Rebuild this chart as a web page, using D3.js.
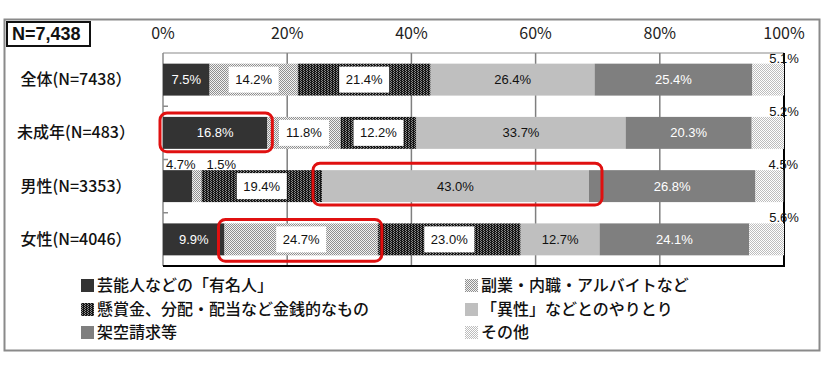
<!DOCTYPE html>
<html>
<head>
<meta charset="utf-8">
<script src="https://cdn.jsdelivr.net/npm/d3@7"></script>
<style>
  body { margin: 0; background: #fff; }
  svg { display: block; font-family: "Noto Sans CJK JP", "Noto Sans", sans-serif; }
</style>
</head>
<body>
<div id="chart"></div>
<script>
// categories (rows) and the six answer groups
const categories = ["全体(N=7438）", "未成年(N=483）", "男性(N=3353）", "女性(N=4046）"];
const seriesNames = [
  "芸能人などの「有名人」",
  "副業・内職・アルバイトなど",
  "懸賞金、分配・配当など金銭的なもの",
  "「異性」などとのやりとり",
  "架空請求等",
  "その他"
];
// percentages per row
const celebrity   = [7.5, 16.8, 4.7, 9.9];
const sideJob     = [14.2, 11.8, 1.5, 24.7];
const prizeMoney  = [21.4, 12.2, 19.4, 23.0];
const romance     = [26.4, 33.7, 43.0, 12.7];
const fakeBilling = [25.4, 20.3, 26.8, 24.1];
const other       = [5.1, 5.2, 4.5, 5.6];
const xTicks = [0, 20, 40, 60, 80, 100];
const totalLabel = "N=7,438";
// highlighted segments: row index + series index
const highlights = [{ row: 1, series: 0 }, { row: 2, series: 3 }, { row: 3, series: 1 }];

const width = 826, height = 375;
const svg = d3.select("#chart").append("svg")
  .attr("width", width)
  .attr("height", height);

const defs = svg.append("defs");

// little pixel patterns to mimic the print hatching
function pattern(id, w, h, bg, fg, dots) {
  const p = defs.append("pattern")
    .attr("id", id)
    .attr("patternUnits", "userSpaceOnUse")
    .attr("width", w).attr("height", h);
  p.append("rect").attr("width", w).attr("height", h).attr("fill", bg);
  dots.forEach(([dx, dy]) => p.append("rect")
    .attr("x", dx).attr("y", dy).attr("width", 1).attr("height", 1).attr("fill", fg));
}
pattern("pSide", 2, 2, "#f2f2f2", "#8f8f8f", [[0, 0], [1, 1]]);
pattern("pPrize", 3, 2, "#151515", "#8a8a8a", [[0, 0], [1, 1]]);
pattern("pOther", 2, 2, "#ffffff", "#bdbdbd", [[0, 0], [1, 1]]);

const fills = ["#333333", "url(#pSide)", "url(#pPrize)", "#bfbfbf", "#7f7f7f", "url(#pOther)"];

const keys = ["celebrity", "sideJob", "prizeMoney", "romance", "fakeBilling", "other"];
const tableRows = categories.map((c, i) => ({
  cat: c,
  celebrity: celebrity[i], sideJob: sideJob[i], prizeMoney: prizeMoney[i],
  romance: romance[i], fakeBilling: fakeBilling[i], other: other[i]
}));
const stacked = d3.stack().keys(keys)(tableRows);

const x = d3.scaleLinear().domain([0, 100]).range([163, 784]);
const y = d3.scaleBand().domain(categories).range([53, 266])
  .paddingInner(0.4).paddingOuter(0.2);

// outer frame
svg.append("rect")
  .attr("x", 4.5).attr("y", 19.5).attr("width", 815).attr("height", 331)
  .attr("fill", "none").attr("stroke", "#8a8a8a").attr("stroke-width", 2);

// N box
const nBox = svg.append("g");
nBox.append("rect")
  .attr("x", 7).attr("y", 22).attr("width", 83).attr("height", 24)
  .attr("fill", "#fff").attr("stroke", "#111").attr("stroke-width", 2);
nBox.append("text")
  .attr("x", 12).attr("y", 34).attr("dy", "0.35em")
  .attr("font-family", "Liberation Sans, Arial, sans-serif")
  .attr("font-weight", "bold").attr("font-size", 18).attr("fill", "#111")
  .text(totalLabel);

// grid lines
svg.append("g").selectAll("line")
  .data(xTicks.filter(t => t > 0 && t < 100))
  .join("line")
  .attr("x1", d => x(d)).attr("x2", d => x(d))
  .attr("y1", 53).attr("y2", 266)
  .attr("stroke", "#7f7f7f").attr("stroke-width", 1.5);

// plot frame: grey top/left, black right/bottom
svg.append("line").attr("x1", x(0)).attr("x2", x(100)).attr("y1", 53).attr("y2", 53)
  .attr("stroke", "#8a8a8a").attr("stroke-width", 1.2);
svg.append("line").attr("x1", x(0)).attr("x2", x(0)).attr("y1", 53).attr("y2", 266)
  .attr("stroke", "#8a8a8a").attr("stroke-width", 1.5);
svg.append("line").attr("x1", x(100)).attr("x2", x(100)).attr("y1", 53).attr("y2", 267)
  .attr("stroke", "#000").attr("stroke-width", 2);
svg.append("line").attr("x1", x(0)).attr("x2", x(100) + 1).attr("y1", 266).attr("y2", 266)
  .attr("stroke", "#000").attr("stroke-width", 2);

// small ticks between rows on the left axis
svg.append("g").selectAll("line")
  .data(categories.slice(1))
  .join("line")
  .attr("x1", x(0)).attr("x2", x(0) + 5)
  .attr("y1", d => y(d) - y.step() * y.paddingInner() / 2)
  .attr("y2", d => y(d) - y.step() * y.paddingInner() / 2)
  .attr("stroke", "#8a8a8a").attr("stroke-width", 1.5);

// top tick labels
svg.append("g").selectAll("text")
  .data(xTicks)
  .join("text")
  .attr("x", d => x(d)).attr("y", 33).attr("dy", "0.35em")
  .attr("text-anchor", "middle")
  .attr("font-size", 16).attr("fill", "#222")
  .text(d => d + "%");

// row labels
svg.append("g").selectAll("text")
  .data(categories)
  .join("text")
  .attr("x", 76).attr("y", d => y(d) + y.bandwidth() / 2).attr("dy", "0.35em")
  .attr("text-anchor", "middle")
  .attr("font-size", 16).attr("font-weight", 500).attr("fill", "#111")
  .text(d => d);

// bars
const layer = svg.append("g").selectAll("g")
  .data(stacked)
  .join("g")
  .attr("fill", (d, i) => fills[i]);

layer.selectAll("rect")
  .data(d => d)
  .join("rect")
  .attr("x", d => x(d[0]))
  .attr("y", d => y(d.data.cat))
  .attr("width", d => x(d[1]) - x(d[0]))
  .attr("height", y.bandwidth());

// value labels
const labels = [];
stacked.forEach((s, si) => {
  s.forEach(d => {
    const v = d[1] - d[0];
    labels.push({ si, v: +v.toFixed(1), x0: x(d[0]), x1: x(d[1]), yTop: y(d.data.cat) });
  });
});

const lbl = svg.append("g").attr("font-family", "Liberation Sans, Arial, sans-serif").attr("font-size", 13);
labels.forEach(l => {
  const txt = l.v.toFixed(1) + "%";
  const cy = l.yTop + y.bandwidth() / 2;
  if (l.v < 6) {
    // small segments: label sits above the bar
    let tx = (l.x0 + l.x1) / 2, anchor = "middle";
    if (l.si === 0) { tx = l.x0 + 3; anchor = "start"; }
    else if (l.si === 1) { tx = l.x1 + 5; anchor = "start"; }
    else if (l.si === 5) { tx = l.x1; anchor = "middle"; }
    lbl.append("text").attr("x", tx).attr("y", l.yTop - 1)
      .attr("text-anchor", anchor).attr("fill", "#111").text(txt);
    return;
  }
  const cx = (l.x0 + l.x1) / 2;
  if (l.si === 1 || l.si === 2) {
    lbl.append("rect").attr("x", cx - 25).attr("y", cy - 13).attr("width", 50).attr("height", 26)
      .attr("fill", "#fff");
  }
  lbl.append("text").attr("x", cx).attr("y", cy).attr("dy", "0.35em")
    .attr("text-anchor", "middle")
    .attr("fill", (l.si === 0 || l.si === 4) ? "#fff" : "#111")
    .text(txt);
});

// red highlight boxes
const hlPad = [{ l: 3, r: 5, t: 4, b: 3 }, { l: 9, r: 13, t: 7, b: 3 }, { l: 6, r: 4, t: 4, b: 6 }];
svg.append("g").selectAll("rect")
  .data(highlights)
  .join("rect")
  .attr("x", (d, i) => x(stacked[d.series][d.row][0]) - hlPad[i].l)
  .attr("y", (d, i) => y(categories[d.row]) - hlPad[i].t)
  .attr("width", (d, i) => x(stacked[d.series][d.row][1]) - x(stacked[d.series][d.row][0]) + hlPad[i].l + hlPad[i].r)
  .attr("height", (d, i) => y.bandwidth() + hlPad[i].t + hlPad[i].b)
  .attr("rx", 7)
  .attr("fill", "none").attr("stroke", "#e01010").attr("stroke-width", 3);

// legend: two columns, filled row by row
const legendX = [81, 465], legendY = [285, 309, 332];
const legend = svg.append("g").selectAll("g")
  .data(seriesNames)
  .join("g")
  .attr("transform", (d, i) => `translate(${legendX[i % 2]},${legendY[Math.floor(i / 2)]})`);
legend.append("rect")
  .attr("x", 0).attr("y", -6).attr("width", 13).attr("height", 13)
  .attr("fill", (d, i) => fills[i]);
legend.append("text")
  .attr("x", 16).attr("y", 0).attr("dy", "0.35em")
  .attr("font-size", 16).attr("font-weight", 500).attr("fill", "#111")
  .text(d => d);
</script>
</body>
</html>
